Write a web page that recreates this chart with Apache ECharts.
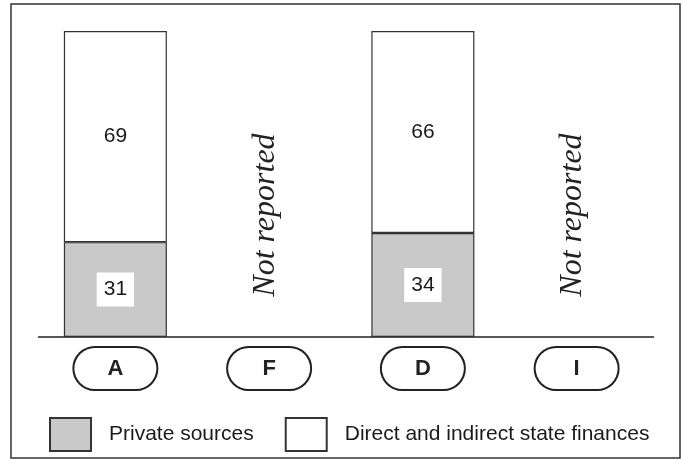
<!DOCTYPE html>
<html>
<head>
<meta charset="utf-8">
<script src="https://cdn.jsdelivr.net/npm/echarts@6/dist/echarts.min.js"></script>
<style>
html,body{margin:0;padding:0;background:#fff;}
#chart{width:683px;height:459px;}
</style>
</head>
<body>
<div id="chart"></div>
<script>
const categories = ['A', 'F', 'D', 'I'];
const privateSources = [31, null, 34, null];
const stateFinances = [69, null, 66, null];
const notReportedText = 'Not reported';
const seriesNames = ['Private sources', 'Direct and indirect state finances'];

const notReported = categories.map((c, i) =>
  (privateSources[i] == null && stateFinances[i] == null) ? 100 : null);

const SANS = '"Liberation Sans", Arial, Helvetica, sans-serif';
const SERIF = '"Liberation Serif", "Times New Roman", serif';

const chart = echarts.init(document.getElementById('chart'), null, {renderer: 'canvas'});
chart.setOption({
  animation: false,
  backgroundColor: '#fff',
  graphic: [{
    type: 'rect',
    shape: {x: 11, y: 4, width: 669, height: 454},
    style: {fill: 'none', stroke: '#333', lineWidth: 1.5},
    silent: true
  }],
  grid: {left: 38.5, right: 29.5, top: 31, bottom: 122, containLabel: false},
  legend: {
    data: seriesNames,
    left: 49, top: 417, padding: 0,
    itemWidth: 41, itemHeight: 33, itemGap: 31,
    icon: 'rect',
    selectedMode: false,
    textStyle: {fontFamily: SANS, fontSize: 21, color: '#1a1a1a', padding: [0, 0, 0, 13]}
  },
  xAxis: {
    type: 'category',
    data: categories,
    axisLine: {show: true, lineStyle: {color: '#222', width: 1.5}},
    axisTick: {show: false},
    axisLabel: {
      margin: 11,
      fontFamily: SANS, fontSize: 22, fontWeight: 'bold', color: '#222',
      width: 82, height: 41, lineHeight: 41, padding: 0,
      align: 'center',
      borderColor: '#222', borderWidth: 2, borderRadius: 21,
      backgroundColor: '#fff'
    }
  },
  yAxis: {type: 'value', min: 0, max: 100, show: false},
  series: [
    {
      name: seriesNames[0], type: 'bar', stack: 'total', barWidth: '67%',
      data: privateSources,
      itemStyle: {color: '#c9c9c9', borderColor: '#333', borderWidth: 1.2},
      label: {
        show: true, position: 'inside',
        fontFamily: SANS, fontSize: 21, color: '#1a1a1a',
        backgroundColor: '#fff', padding: [8, 7, 7, 7], lineHeight: 19
      }
    },
    {
      name: seriesNames[1], type: 'bar', stack: 'total', barWidth: '67%',
      data: stateFinances,
      itemStyle: {color: '#fff', borderColor: '#333', borderWidth: 1.2},
      label: {
        show: true, position: 'inside',
        fontFamily: SANS, fontSize: 21, color: '#1a1a1a'
      }
    },
    {
      name: 'notReported', type: 'bar', stack: 'total', barWidth: '67%',
      data: notReported,
      itemStyle: {color: 'rgba(0,0,0,0)'},
      silent: true,
      label: {
        show: true, position: 'inside', rotate: 90, offset: [-31, -4],
        formatter: notReportedText,
        fontFamily: SERIF, fontStyle: 'italic', fontSize: 32, color: '#222'
      }
    }
  ]
});
</script>
</body>
</html>
